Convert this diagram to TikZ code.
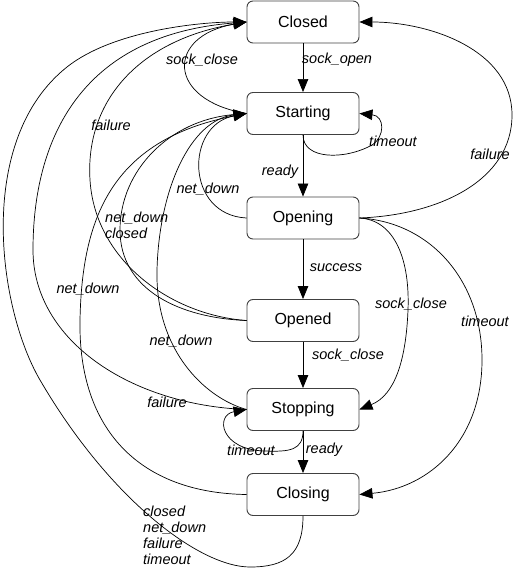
\documentclass[tikz,border=0pt]{standalone}
\usepackage{fontspec}
\setmainfont{Liberation Sans}
\usetikzlibrary{arrows.meta}

\begin{document}
\begin{tikzpicture}[
    x=1pt, y=-1pt,
    state/.style={rectangle, rounded corners=6pt, draw=black!75, line width=0.9pt, minimum width=112pt, minimum height=42pt, inner sep=0pt, font=\fontsize{16}{19}\selectfont},
    evt/.style={font=\itshape\fontsize{14.5}{16}\selectfont, inner sep=0pt},
    conn/.style={-{Triangle[length=13pt,width=10.5pt]}, line width=0.7pt}
]
\useasboundingbox (0,0) rectangle (513,569);

% States
\node[state] (Closed) at (303, 22) {Closed};
\node[state] (Starting) at (303, 113.5) {Starting};
\node[state] (Opening) at (303, 218) {Opening};
\node[state] (Opened) at (303, 320.5) {Opened};
\node[state] (Stopping) at (303, 409.5) {Stopping};
\node[state] (Closing) at (303, 494.5) {Closing};

% Main line
\draw[conn] (Closed) -- (Starting);
\draw[conn] (Starting) -- (Opening);
\draw[conn] (Opening) -- (Opened);
\draw[conn] (Opened) -- (Stopping);
\draw[conn] (Stopping) -- (Closing);

% Self loops
\draw[conn] (Starting.south) .. controls (303,160) and (345,160) .. (372,145) .. controls (385,137) and (385,116) .. (Starting.east);
\draw[conn] (Stopping.south) .. controls (303,450) and (290,452) .. (265,451) .. controls (220,450) and (215,415) .. (Stopping.west);

% Left side
\draw[conn] (Starting.west) .. controls (166,100) and (166,36) .. (Closed.west);
\draw[conn] (Opening.west) .. controls (185,215) and (185,125) .. (Starting.west);
\draw[conn] (Opened.west) .. controls (180,318) and (120,290) .. (120,230) .. controls (120,170) and (170,120) .. (Starting.west);
\draw[conn] (Closing.west) .. controls (140,493) and (78,430) .. (80,320) .. controls (82,220) and (110,140) .. (Starting.west);
\draw[conn] (Stopping.west) .. controls (205,398) and (155,350) .. (157,270) .. controls (159,190) and (190,120) .. (Starting.west);
\draw[conn] (Opened.west) .. controls (170,315) and (95,260) .. (90,180) .. controls (85,100) and (140,40) .. (Closed.west);
\draw[conn] (Stopping.west) .. controls (130,405) and (33,340) .. (33,250) .. controls (33,140) and (80,35) .. (Closed.west);
\draw[conn] (Closing.south) .. controls (303,555) and (285,567) .. (250,567) .. controls (200,567) and (110,500) .. (40,380) .. controls (-2,308) and (-25,140) .. (67,67) .. controls (113,30.5) and (200,22) .. (Closed.west);

% Right side
\draw[conn] (Opening.east) .. controls (440,215) and (512,180) .. (512,115) .. controls (512,50) and (430,22) .. (Closed.east);
\draw[conn] (Opening.east) .. controls (395,220) and (410,260) .. (408,310) .. controls (406,360) and (395,395) .. (Stopping.east);
\draw[conn] (Opening.east) .. controls (430,222) and (482,280) .. (482,360) .. controls (482,440) and (430,488) .. (Closing.east);

% Events
\node[evt] (e-open) at (337,60) {sock\_open};
\node[evt] (e-close1) at (202,60) {sock\_close};
\node[evt] (e-fail1) at (111,125) {failure};
\node[evt] (e-tout1) at (393,141) {timeout};
\node[evt] (e-fail2) at (490,154) {failure};
\node[evt] (e-ready1) at (280,172) {ready};
\node[evt] (e-down1) at (208,189) {net\_down};
\node[evt, align=left, anchor=north west] (e-down2) at (105,212) {net\_down\\closed};
\node[evt] (e-succ) at (336,268) {success};
\node[evt] (e-close2) at (411,304) {sock\_close};
\node[evt] (e-tout2) at (485,321) {timeout};
\node[evt] (e-down3) at (88,289) {net\_down};
\node[evt] (e-down4) at (181,341) {net\_down};
\node[evt] (e-close3) at (348,355) {sock\_close};
\node[evt] (e-fail3) at (167,402) {failure};
\node[evt] (e-tout3) at (251,450) {timeout};
\node[evt] (e-ready2) at (324,450) {ready};
\node[evt, align=left, anchor=north west] (e-all) at (143,506) {closed\\net\_down\\failure\\timeout};

\end{tikzpicture}
\end{document}
